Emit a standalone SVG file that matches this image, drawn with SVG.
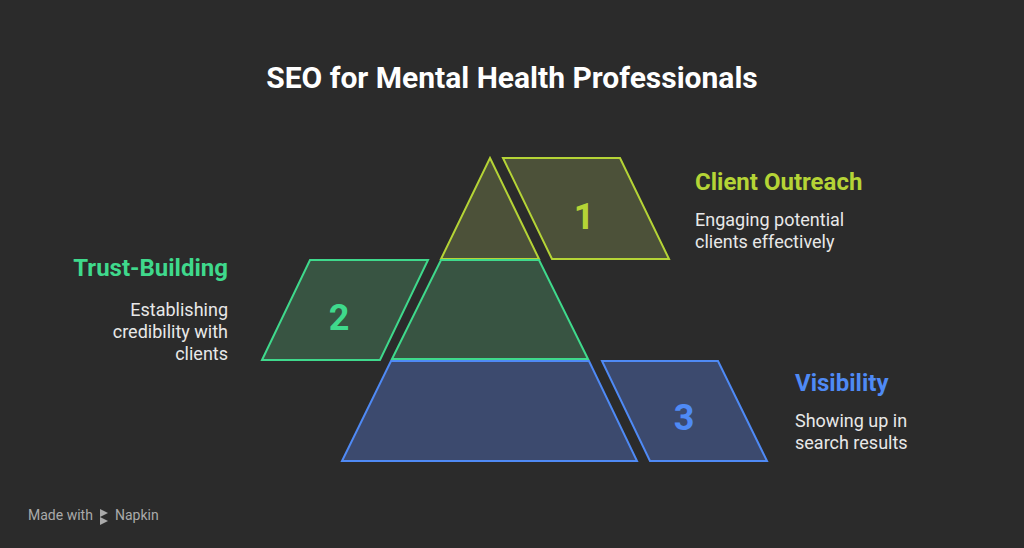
<svg xmlns="http://www.w3.org/2000/svg" width="1024" height="548" viewBox="0 0 1024 548">
<style>
text{font-family:Roboto,"Liberation Sans",sans-serif}
.t{font-size:30px;font-weight:bold;fill:#fff}
.h{font-size:24px;font-weight:bold}
.d{font-size:18px;fill:#e8e8e8}
.n{font-size:36px;font-weight:bold;text-anchor:middle}
.y{fill:#4c5139;stroke:#b5d436;stroke-width:2}
.g{fill:#385442;stroke:#3fd98c;stroke-width:2}
.b{fill:#3c4a6e;stroke:#4f8af5;stroke-width:2}
</style>
<rect width="1024" height="548" fill="#2b2b2b"/>
<text class="t" x="512" y="88" text-anchor="middle">SEO for Mental Health Professionals</text>
<g id="pyramid">
<polygon class="y" points="490,158 539,259 441,259"/>
<polygon class="g" points="441,260 539,260 588,359 392,359"/>
<polygon class="b" points="391,361 589,361 637,461 342,461"/>
</g>
<g id="node1">
<polygon class="y" points="503,158 620,158 669,259 552,259"/>
<text class="n" x="584" y="229" fill="#b5d436">1</text>
<text class="h" x="695" y="190" fill="#b5d436">Client Outreach</text>
<text class="d" x="695" y="226">Engaging potential</text>
<text class="d" x="695" y="248">clients effectively</text>
</g>
<g id="node2">
<polygon class="g" points="310,260 428,260 380,360 262,360"/>
<text class="n" x="339" y="330" fill="#3fd98c">2</text>
<text class="h" x="228" y="276" fill="#3fd98c" text-anchor="end">Trust-Building</text>
<text class="d" x="228" y="316" text-anchor="end">Establishing</text>
<text class="d" x="228" y="338" text-anchor="end">credibility with</text>
<text class="d" x="228" y="360" text-anchor="end">clients</text>
</g>
<g id="node3">
<polygon class="b" points="602,361 718,361 767,461 650,461"/>
<text class="n" x="684" y="430" fill="#4f8af5">3</text>
<text class="h" x="795" y="391" fill="#4f8af5">Visibility</text>
<text class="d" x="795" y="427">Showing up in</text>
<text class="d" x="795" y="449">search results</text>
</g>
<g id="connectors"/>
<g id="footer">
<text x="28" y="520" font-size="14" fill="#aaa">Made with</text>
<path d="M100 509l8 4-8 4zM100 517l8 4-8 4z" fill="#aaa"/>
<text x="115" y="520" font-size="14" fill="#aaa">Napkin</text>
</g>
</svg>
